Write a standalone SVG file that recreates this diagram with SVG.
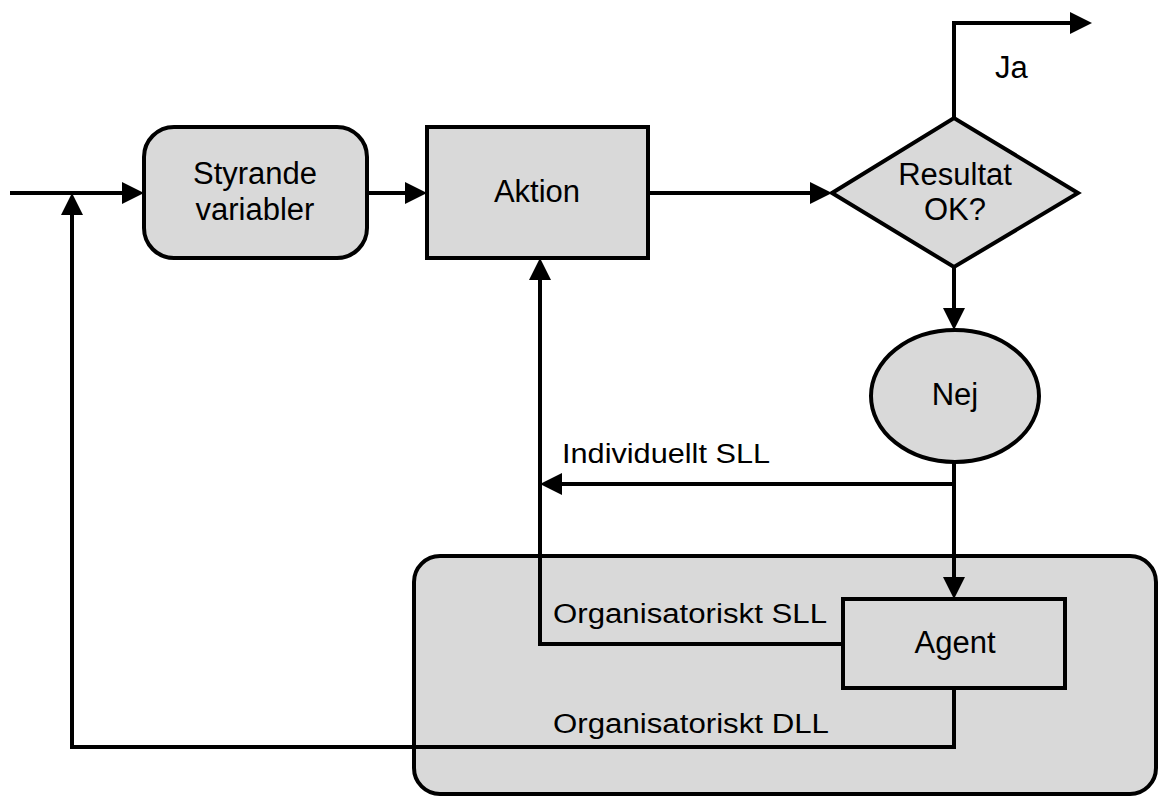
<svg xmlns="http://www.w3.org/2000/svg" width="1159" height="796" viewBox="0 0 1159 796">
  <defs>
    <style>
      .shape { fill: #d9d9d9; stroke: #000; stroke-width: 4; }
      .wire { fill: none; stroke: #000; stroke-width: 4; stroke-linejoin: miter; }
      .txt { font-family: "Liberation Sans", Arial, sans-serif; font-size: 31px; fill: #000; }
      .mid { text-anchor: middle; }
      .lbl { font-family: "Liberation Sans", Arial, sans-serif; font-size: 27px; fill: #000; }
    </style>
    <marker id="arrow" markerUnits="userSpaceOnUse" markerWidth="24" markerHeight="24" refX="18" refY="11" orient="auto">
      <path d="M0,0 L22,11 L0,22 Z" fill="#000"/>
    </marker>
  </defs>

  <rect width="1159" height="796" fill="#fff"/>

  <!-- organisation frame -->
  <g id="organisation">
    <rect class="shape" x="414" y="556" width="742" height="238" rx="26" ry="26"/>
  </g>

  <!-- connectors -->
  <g id="connectors">
    <path class="wire" d="M10,193 H140" marker-end="url(#arrow)"/>
    <path class="wire" d="M367,193 H423" marker-end="url(#arrow)"/>
    <path class="wire" d="M648,193 H828" marker-end="url(#arrow)"/>
    <path class="wire" d="M954,118 V23 H1088" marker-end="url(#arrow)"/>
    <path class="wire" d="M954,267 V326" marker-end="url(#arrow)"/>
    <path class="wire" d="M954,462 V595" marker-end="url(#arrow)"/>
    <path class="wire" d="M954,484 H544" marker-end="url(#arrow)"/>
    <path class="wire" d="M843,644 H540 V262" marker-end="url(#arrow)"/>
    <path class="wire" d="M954,688 V747 H72 V197" marker-end="url(#arrow)"/>
  </g>

  <g id="styrande">
    <rect class="shape" x="144" y="127" width="223" height="131" rx="30" ry="30"/>
    <text class="txt mid" x="255" y="184">Styrande</text>
    <text class="txt mid" x="255" y="220">variabler</text>
  </g>

  <g id="aktion">
    <rect class="shape" x="427" y="127" width="221" height="131"/>
    <text class="txt mid" x="537" y="202">Aktion</text>
  </g>

  <g id="resultat">
    <polygon class="shape" points="832,193 954,118 1078,193 954,267"/>
    <text class="txt mid" x="955" y="185">Resultat</text>
    <text class="txt mid" x="955" y="220">OK?</text>
  </g>

  <g id="nej">
    <ellipse class="shape" cx="955" cy="396" rx="84" ry="66"/>
    <text class="txt mid" x="955" y="405">Nej</text>
  </g>

  <g id="agent">
    <rect class="shape" x="843" y="599" width="222" height="89"/>
    <text class="txt mid" x="955" y="653">Agent</text>
  </g>

  <!-- connector labels -->
  <g id="labels">
    <text class="txt" x="995" y="78">Ja</text>
    <text class="lbl" x="562" y="463" textLength="208" lengthAdjust="spacingAndGlyphs">Individuellt SLL</text>
    <text class="lbl" x="553" y="623" textLength="274" lengthAdjust="spacingAndGlyphs">Organisatoriskt SLL</text>
    <text class="lbl" x="553" y="733" textLength="276" lengthAdjust="spacingAndGlyphs">Organisatoriskt DLL</text>
  </g>
</svg>
